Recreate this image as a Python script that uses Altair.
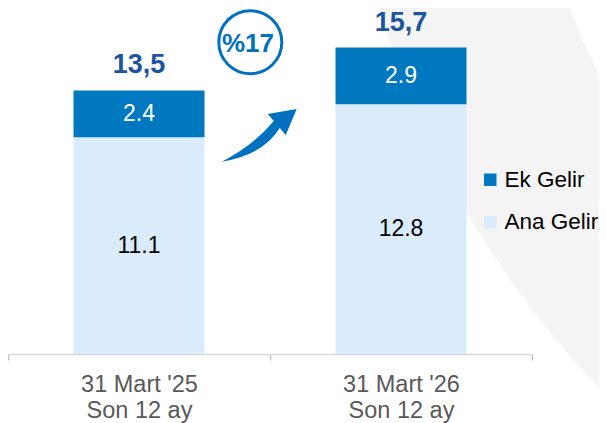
import altair as alt
import pandas as pd

# ---- data ----
periods = ["31 Mart '25\n\u00a0Son 12 ay", "31 Mart '26\n\u00a0Son 12 ay"]
series_names = ["Ek Gelir", "Ana Gelir"]
ana_gelir = [11.1, 12.8]
ek_gelir = [2.4, 2.9]
series_colors = ["#0078C0", "#DAEBFC"]
growth_label = ["%17"]

rows = []
for i, p in enumerate(periods):
    rows.append({"period": p, "series": "Ana Gelir", "value": ana_gelir[i], "order": 0})
    rows.append({"period": p, "series": "Ek Gelir", "value": ek_gelir[i], "order": 1})
df = pd.DataFrame(rows)
one = pd.DataFrame({"k": [0]})

FONT = "Liberation Sans"
BLUE = "#0070C0"

x_enc = alt.X(
    "period:N",
    sort=periods,
    scale=alt.Scale(paddingInner=0, paddingOuter=0),
    axis=alt.Axis(
        title=None, labelAngle=0, labelExpr="split(datum.label, '\\n')",
        tickBand="extent", tickSize=6, tickColor="#BFBFBF", tickWidth=1.5,
        domainColor="#D9D9D9", domainWidth=1.5,
        labelFontSize=23.5, labelColor="#595959", labelFont=FONT,
        labelLineHeight=26, labelPadding=12,
    ),
)
y_scale = alt.Scale(domain=[0, 17.725], nice=False)

base = alt.Chart(df).transform_stack(
    stack="value", groupby=["period"], as_=["y0", "y1"],
    sort=[alt.SortField("order", order="ascending")],
)

bars = base.mark_bar(width=alt.RelativeBandSize(0.5)).encode(
    x=x_enc,
    y=alt.Y("y0:Q", scale=y_scale, axis=None),
    y2="y1:Q",
    color=alt.Color(
        "series:N",
        scale=alt.Scale(domain=series_names, range=series_colors),
        legend=alt.Legend(
            title=None, orient="none", legendX=471, legendY=160.5,
            symbolType="square", symbolSize=156, symbolStrokeWidth=0,
            labelFontSize=22.5, labelFont=FONT, labelColor="#000000",
            rowPadding=19.7, labelOffset=3, padding=0,
        ),
    ),
)

seg_text = base.transform_calculate(mid="(datum.y0 + datum.y1) / 2").mark_text(
    font=FONT, fontSize=23, baseline="middle"
).encode(
    x=x_enc,
    y=alt.Y("mid:Q", scale=y_scale, axis=None),
    text=alt.Text("value:Q", format=".1f"),
    color=alt.condition("datum.series == 'Ek Gelir'", alt.value("#FFFFFF"), alt.value("#000000")),
)

totals = alt.Chart(df).transform_aggregate(
    total="sum(value)", groupby=["period"]
).transform_calculate(
    label="replace(format(datum.total, '.1f'), '.', ',')"
).mark_text(
    font=FONT, fontSize=27, fontWeight="bold", color="#1C559F", baseline="alphabetic", dy=-17
).encode(
    x=x_enc,
    y=alt.Y("total:Q", scale=y_scale, axis=None),
    text="label:N",
)

# decorative background band
bg = alt.Chart(one).mark_arc(
    theta=0, theta2=6.2832, innerRadius=748, outerRadius=929, color="#F4F4F4"
).encode(x=alt.value(1262), y=alt.value(-263))

ring = alt.Chart(one).mark_point(
    shape="circle", filled=False, size=3969, strokeWidth=3, color=BLUE, opacity=1
).encode(x=alt.value(242.3), y=alt.value(34.2))

growth = alt.Chart(pd.DataFrame({"label": growth_label})).mark_text(
    font=FONT, fontSize=26, fontWeight="bold", color=BLUE, baseline="alphabetic"
).encode(x=alt.value(240), y=alt.value(43.7), text="label:N")

ARROW = ("M -0.9325 0.655 Q -0.15 0.26 0.37 -0.36 L 0.2175 -0.5375 "
         "L 0.9425 -0.6625 L 0.6675 -0.0125 L 0.52 -0.185 Q 0.10 0.49 -0.9325 0.655 Z")
arrow = alt.Chart(one).mark_point(
    shape=ARROW, filled=True, size=6400, color=BLUE, opacity=1, strokeWidth=0
).encode(x=alt.value(251), y=alt.value(127.5))

chart = alt.layer(bg, bars, seg_text, totals, ring, growth, arrow).properties(
    width=524, height=346,
    autosize=alt.AutoSizeParams(type="none"),
    padding={"left": 0, "top": 0, "right": 67, "bottom": 69},
    background="white",
).configure_view(stroke=None)

chart.save("out.html", embed_options={"renderer": "svg", "actions": False})
